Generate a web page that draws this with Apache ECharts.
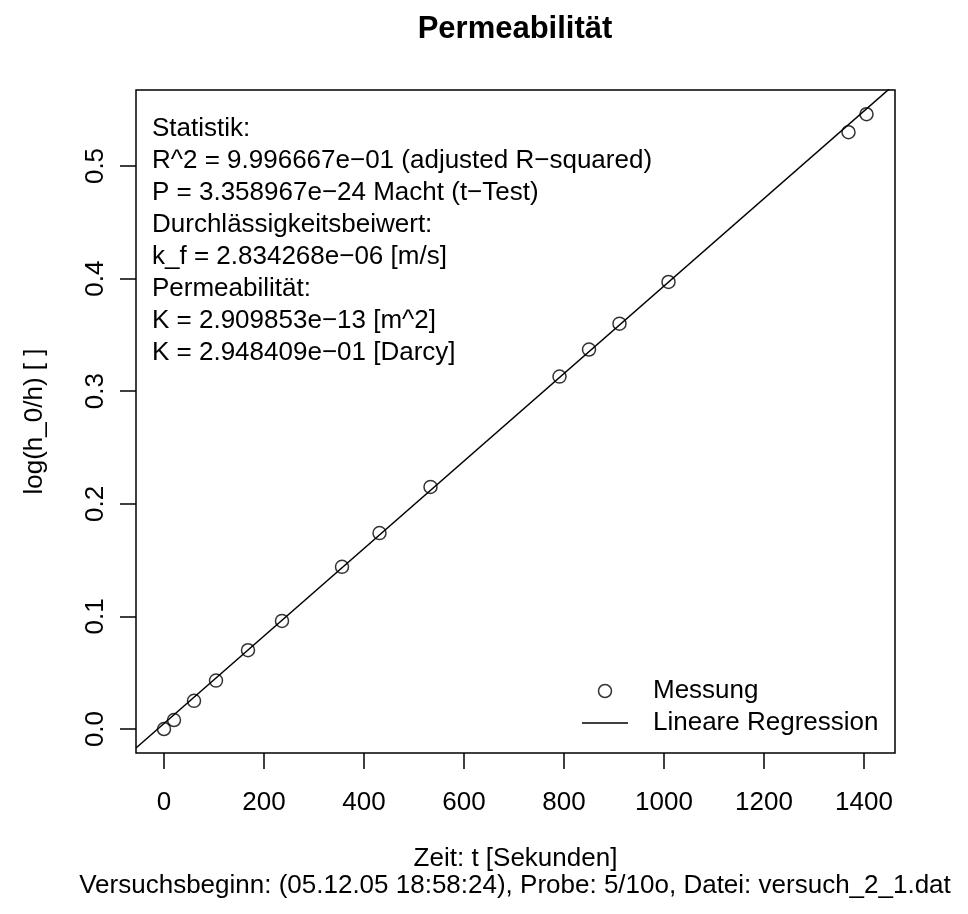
<!DOCTYPE html>
<html>
<head>
<meta charset="utf-8">
<title>Permeabilität</title>
<script src="https://cdn.jsdelivr.net/npm/echarts@6/dist/echarts.min.js"></script>
<style>
  html, body { margin: 0; padding: 0; background: #fff; }
  #chart { width: 968px; height: 914px; }
</style>
</head>
<body>
<div id="chart"></div>
<script>
// Messwerte: Zeit [s] und log(h_0/h)
const zeit = [0, 20, 60, 104, 168, 236, 356, 431, 533, 791, 850, 911, 1009, 1369, 1405];
const logH = [0.000, 0.008, 0.025, 0.043, 0.070, 0.096, 0.144, 0.174, 0.215, 0.313, 0.337, 0.360, 0.397, 0.530, 0.546];

// Regressionsgerade (Endpunkte am Plotrand)
const regZeit = [-56, 1462];
const regLog = [-0.0169, 0.5729];

const xTicks = [0, 200, 400, 600, 800, 1000, 1200, 1400];
const yTicks = [0, 0.1, 0.2, 0.3, 0.4, 0.5];
const xRange = [-56, 1462];
const yRange = [-0.0213, 0.5675];

const statText = [
  'Statistik:',
  'R^2 = 9.996667e\u221201 (adjusted R\u2212squared)',
  'P = 3.358967e\u221224 Macht (t\u2212Test)',
  'Durchlässigkeitsbeiwert:',
  'k_f = 2.834268e\u221206 [m/s]',
  'Permeabilität:',
  'K = 2.909853e\u221213 [m^2]',
  'K = 2.948409e\u221201 [Darcy]'
];

const FONT = '"Liberation Sans", Arial, Helvetica, sans-serif';

const myChart = echarts.init(document.getElementById('chart'));

const option = {
  animation: false,
  backgroundColor: '#fff',
  textStyle: { fontFamily: FONT, color: '#000' },
  title: [
    {
      text: 'Permeabilität',
      left: 515,
      top: 14,
      textAlign: 'center',
      padding: 0,
      textStyle: { fontSize: 31, fontWeight: 'bold', color: '#000', fontFamily: FONT }
    },
    {
      text: 'Versuchsbeginn: (05.12.05 18:58:24), Probe: 5/10o, Datei: versuch_2_1.dat',
      left: 515,
      top: 873,
      textAlign: 'center',
      padding: 0,
      textStyle: { fontSize: 26, fontWeight: 'normal', color: '#000', fontFamily: FONT }
    }
  ],
  grid: {
    left: 136,
    top: 90,
    width: 759,
    height: 663,
    show: true,
    borderColor: '#000',
    borderWidth: 1.5,
    backgroundColor: 'transparent'
  },
  legend: {
    orient: 'vertical',
    left: 582,
    top: 678,
    itemWidth: 46,
    itemHeight: 13,
    itemGap: 6,
    padding: 0,
    textStyle: { fontSize: 26, color: '#000', fontFamily: FONT, padding: [0, 0, 0, 20] },
    data: [
      { name: 'Messung', icon: 'circle', itemStyle: { color: '#fff', borderColor: '#000', borderWidth: 1.5 } },
      { name: 'Lineare Regression', icon: 'path://M0,0L46,0L46,1.5L0,1.5Z', itemStyle: { color: '#000', borderWidth: 0 } }
    ]
  },
  xAxis: {
    type: 'value',
    min: xRange[0],
    max: xRange[1],
    name: 'Zeit: t [Sekunden]',
    nameLocation: 'middle',
    nameGap: 93,
    nameTextStyle: { fontSize: 26, color: '#000', fontFamily: FONT },
    axisLine: { show: false, onZero: false },
    splitLine: { show: false },
    axisTick: {
      show: true,
      inside: false,
      length: 16,
      customValues: xTicks,
      lineStyle: { color: '#000', width: 1.5 }
    },
    axisLabel: {
      customValues: xTicks,
      margin: 37,
      fontSize: 26,
      color: '#000',
      fontFamily: FONT,
      formatter: function (v) { return String(v); }
    }
  },
  yAxis: {
    type: 'value',
    min: yRange[0],
    max: yRange[1],
    name: 'log(h_0/h) [ ]',
    nameLocation: 'middle',
    nameRotate: 90,
    nameGap: 88,
    nameTextStyle: { fontSize: 26, color: '#000', fontFamily: FONT },
    axisLine: { show: false, onZero: false },
    splitLine: { show: false },
    axisTick: {
      show: true,
      inside: false,
      length: 16,
      customValues: yTicks,
      lineStyle: { color: '#000', width: 1.5 }
    },
    axisLabel: {
      customValues: yTicks,
      rotate: 90,
      margin: 27,
      fontSize: 26,
      color: '#000',
      fontFamily: FONT,
      formatter: function (v) { return v.toFixed(1); }
    }
  },
  graphic: [
    {
      type: 'text',
      left: 152,
      top: 113,
      style: {
        text: statText.join('\n'),
        font: '26px ' + FONT,
        lineHeight: 32,
        fill: '#000'
      }
    }
  ],
  series: [
    {
      name: 'Lineare Regression',
      type: 'line',
      symbol: 'none',
      clip: true,
      lineStyle: { color: '#000', width: 1.5 },
      itemStyle: { color: '#000' },
      data: regZeit.map(function (t, i) { return [t, regLog[i]]; }),
      z: 2
    },
    {
      name: 'Messung',
      type: 'scatter',
      symbol: 'circle',
      symbolSize: 13,
      itemStyle: { color: 'rgba(255,255,255,0)', borderColor: '#000', borderWidth: 1.5 },
      data: zeit.map(function (t, i) { return [t, logH[i]]; }),
      z: 3
    }
  ]
};

myChart.setOption(option);
</script>
</body>
</html>
